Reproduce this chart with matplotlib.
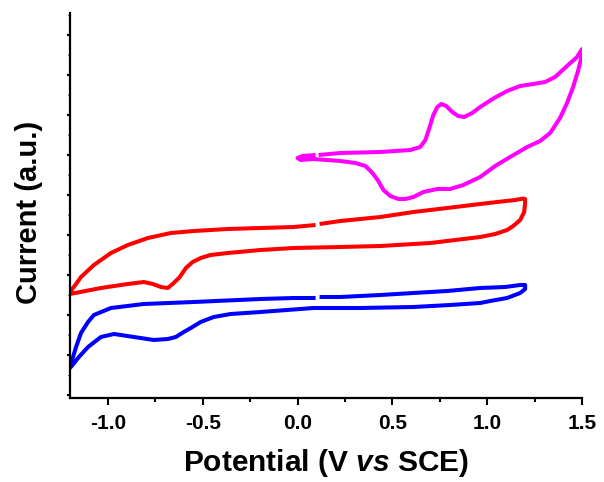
import numpy as np
import matplotlib
matplotlib.use("Agg")
import matplotlib.pyplot as plt
from matplotlib.ticker import MultipleLocator

plt.rcParams['font.family'] = ['Liberation Sans', 'DejaVu Sans']
plt.rcParams['font.weight'] = 'bold'
plt.rcParams['mathtext.fontset'] = 'custom'
plt.rcParams['mathtext.rm'] = 'Liberation Sans:bold'
plt.rcParams['mathtext.it'] = 'Liberation Sans:bold:italic'

# magenta CV (0.0 -> 1.5 V window)
mag_v = [0.111, 0.226, 0.437, 0.595, 0.647, 0.674, 0.695, 0.716, 0.737, 0.758,
         0.784, 0.816, 0.847, 0.879, 0.921, 0.963, 1.037, 1.105, 1.174, 1.242,
         1.305, 1.358, 1.421, 1.474, 1.5,
         1.5, 1.479, 1.453, 1.421, 1.384, 1.332, 1.279, 1.211, 1.121, 1.042,
         0.963, 0.874, 0.805, 0.737, 0.663, 0.611, 0.568, 0.532, 0.489, 0.453,
         0.426, 0.395, 0.358, 0.305, 0.226, 0.084, 0.016, 0.0, 0.026, 0.095]
mag_i = [6.00, 6.05, 6.075, 6.125, 6.20, 6.375, 6.675, 7.00, 7.20, 7.275,
         7.225, 7.075, 6.975, 6.95, 7.05, 7.20, 7.425, 7.60, 7.725, 7.775,
         7.825, 7.95, 8.225, 8.45, 8.65,
         8.50, 8.10, 7.70, 7.30, 6.925, 6.55, 6.35, 6.20, 5.95, 5.725,
         5.45, 5.25, 5.15, 5.15, 5.075, 4.95, 4.90, 4.90, 4.975, 5.125,
         5.35, 5.55, 5.725, 5.80, 5.85, 5.90, 5.875, 5.925, 5.975, 6.00]

# red CV (-1.2 -> 1.2 V window)
red_v = [0.116, 0.226, 0.437, 0.611, 0.789, 0.963, 1.053, 1.147, 1.19, 1.2,
         1.2, 1.195, 1.174, 1.137, 1.105, 1.042, 0.963, 0.832, 0.700, 0.437,
         0.226, -0.021, -0.195, -0.368, -0.458, -0.511, -0.553, -0.589, -0.621,
         -0.653, -0.684, -0.721, -0.763, -0.811, -0.853, -0.895, -1.037, -1.2,
         -1.2, -1.168, -1.142, -1.074, -0.984, -0.895, -0.789, -0.668, -0.547,
         -0.368, -0.195, -0.021, 0.095]
red_i = [4.275, 4.35, 4.45, 4.575, 4.675, 4.775, 4.825, 4.875, 4.91, 4.90,
         4.80, 4.575, 4.375, 4.225, 4.125, 4.025, 3.95, 3.875, 3.80, 3.725,
         3.70, 3.675, 3.625, 3.55, 3.50, 3.425, 3.325, 3.175, 2.95,
         2.80, 2.675, 2.70, 2.775, 2.825, 2.80, 2.775, 2.675, 2.525,
         2.575, 2.775, 2.95, 3.25, 3.55, 3.75, 3.925, 4.05, 4.10,
         4.15, 4.175, 4.20, 4.25]

# blue CV (-1.2 -> 1.2 V window)
blue_v = [0.116, 0.226, 0.437, 0.611, 0.789, 0.963, 1.095, 1.174, 1.2,
          1.2, 1.174, 1.105, 1.016, 0.963, 0.805, 0.611, 0.332, 0.084, -0.195,
          -0.353, -0.442, -0.484, -0.511, -0.563, -0.6, -0.642, -0.684, -0.758,
          -0.863, -0.968, -1.037, -1.105, -1.153, -1.2,
          -1.189, -1.168, -1.142, -1.105, -1.074, -0.984, -0.811, -0.547,
          -0.195, -0.021, 0.095]
blue_i = [2.45, 2.45, 2.50, 2.55, 2.60, 2.675, 2.70, 2.75, 2.75,
          2.65, 2.55, 2.425, 2.35, 2.30, 2.25, 2.20, 2.175, 2.175, 2.075,
          2.025, 1.95, 1.875, 1.825, 1.675, 1.575, 1.45, 1.40, 1.375,
          1.45, 1.525, 1.45, 1.20, 0.95, 0.675,
          0.875, 1.20, 1.55, 1.825, 2.00, 2.175, 2.275, 2.325,
          2.40, 2.425, 2.425]

fig = plt.figure(figsize=(6.04, 4.82), dpi=100)
ax = fig.add_axes([0.1159, 0.1743, 0.8477, 0.7987])

lw = 2.9
ax.plot(mag_v, mag_i, color='#FF00FF', lw=lw, solid_joinstyle='round', solid_capstyle='butt')
ax.plot(red_v, red_i, color='#FF0000', lw=lw, solid_joinstyle='round', solid_capstyle='butt')
ax.plot(blue_v, blue_i, color='#0000FF', lw=lw, solid_joinstyle='round', solid_capstyle='butt')

ax.set_xlim(-1.2, 1.5)
ax.set_ylim(-0.075, 9.55)

for s in ['top', 'right']:
    ax.spines[s].set_visible(False)
for s in ['left', 'bottom']:
    ax.spines[s].set_linewidth(1.6)

ax.xaxis.set_minor_locator(MultipleLocator(0.25))
ax.yaxis.set_major_locator(MultipleLocator(1))
ax.yaxis.set_minor_locator(MultipleLocator(0.5))
ax.set_xticks([-1.0, -0.5, 0.0, 0.5, 1.0, 1.5])
ax.set_xticklabels(['-1.0', '-0.5', '0.0', '0.5', '1.0', '1.5'])
ax.tick_params(axis='x', which='major', direction='out', length=5, width=1.5,
               labelsize=15, pad=6.5)
ax.tick_params(axis='x', which='minor', direction='out', length=3, width=1.5)
ax.tick_params(axis='y', which='major', direction='out', length=2.5, width=1.5,
               labelleft=False)
ax.tick_params(axis='y', which='minor', direction='out', length=1.2, width=1.0)
for t in ax.get_xticklabels():
    t.set_fontweight('bold')

ax.set_xlabel(r'Potential (V $\mathit{vs}$ SCE)', fontsize=21.5, fontweight='bold', labelpad=10)
ax.set_ylabel('Current (a.u.)', fontsize=21, fontweight='bold')
ax.yaxis.set_label_coords(-0.052, 0.483)

fig.savefig('out.png', dpi=100)
